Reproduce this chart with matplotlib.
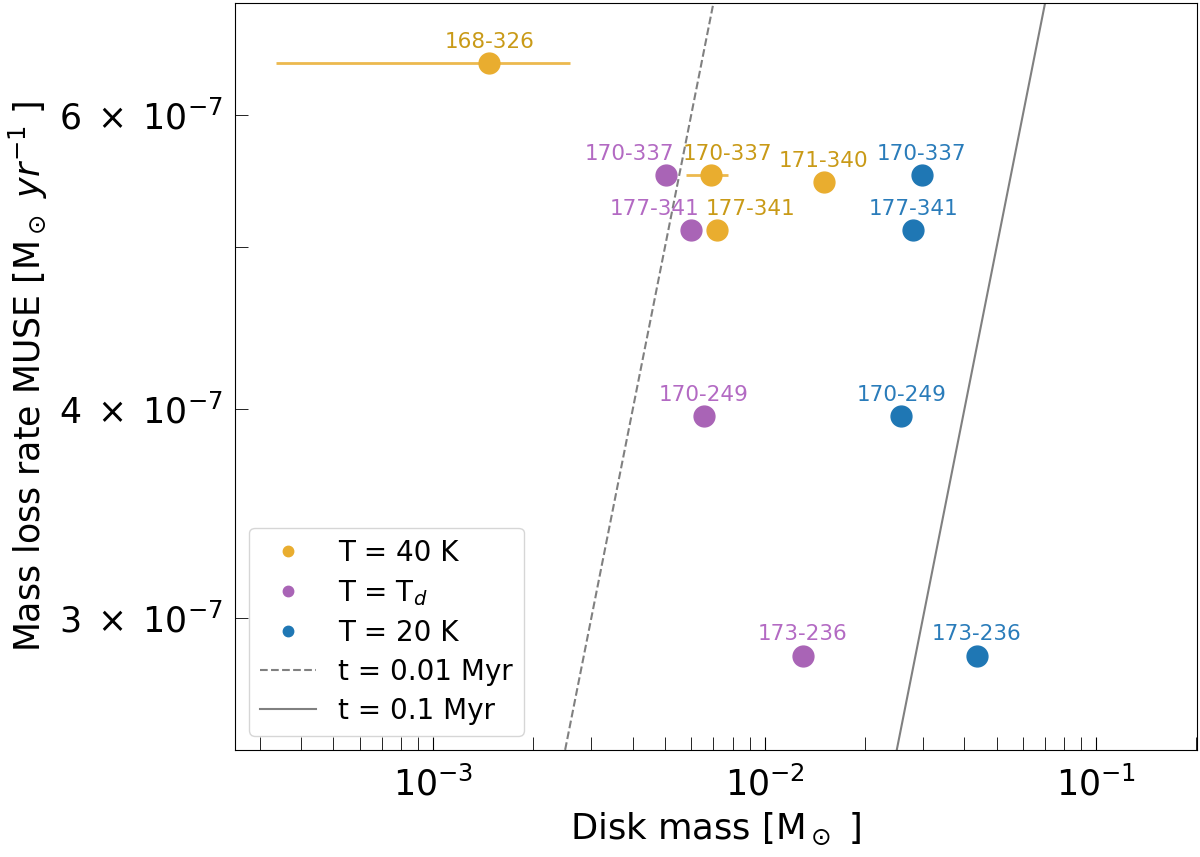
import matplotlib
matplotlib.use("Agg")
import matplotlib.pyplot as plt
from matplotlib.ticker import FuncFormatter
import numpy as np

# disk masses [Msun] and MUSE mass loss rates [Msun/yr]
names_40k = ["168-326", "170-337", "171-340", "177-341"]
mdisk_40k = [1.475e-3, 6.86e-3, 1.504e-2, 7.17e-3]
mdot_40k = [6.44e-7, 5.52e-7, 5.47e-7, 5.12e-7]
xerr_lo_40k = [1.14e-3, 1.06e-3, 0.0, 0.0]
xerr_hi_40k = [1.11e-3, 0.88e-3, 0.0, 0.0]

names_td = ["170-337", "177-341", "170-249", "173-236"]
mdisk_td = [5.03e-3, 5.99e-3, 6.54e-3, 1.303e-2]
mdot_td = [5.52e-7, 5.12e-7, 3.96e-7, 2.847e-7]

names_20k = ["170-337", "177-341", "170-249", "173-236"]
mdisk_20k = [2.976e-2, 2.80e-2, 2.58e-2, 4.35e-2]
mdot_20k = [5.52e-7, 5.12e-7, 3.96e-7, 2.847e-7]

# depletion time lines
t_lines = [1e4, 1e5]  # yr
t_labels = ["t = 0.01 Myr", "t = 0.1 Myr"]
mdot_line = [2.5e-7, 7e-7]

c_40k, c_td, c_20k = "#e9ad2f", "#a964b6", "#1f77b4"
tc_40k, tc_td, tc_20k = "#c99a17", "#b36ac3", "#2a7cba"

fig = plt.figure(figsize=(12, 8.57), dpi=100)
ax = fig.add_axes([0.196, 0.125, 0.8015, 0.8715])

ax.errorbar(mdisk_40k, mdot_40k, xerr=[xerr_lo_40k, xerr_hi_40k], fmt="none",
            ecolor=c_40k, elinewidth=2, alpha=0.85, zorder=2)
ax.plot(mdisk_40k, mdot_40k, "o", ms=15, color=c_40k, label="T = 40 K", zorder=3)
ax.plot(mdisk_td, mdot_td, "o", ms=15, color=c_td, label="T = T$_d$", zorder=3)
ax.plot(mdisk_20k, mdot_20k, "o", ms=15, color=c_20k, label="T = 20 K", zorder=3)

for t, lab, ls in zip(t_lines, t_labels, ["--", "-"]):
    ax.plot([m * t for m in mdot_line], mdot_line, ls, color="grey", lw=1.5, label=lab, zorder=1)

# label nudges (points) for crowded labels
nudge_40k = {"170-337": 12, "177-341": 24}
nudge_td = {"170-337": -26, "177-341": -26}

def label(names, xs, ys, col, nudge):
    for n, x, y in zip(names, xs, ys):
        ax.annotate(n, (x, y), xytext=(nudge.get(n, 0), 11), textcoords="offset points",
                    ha="center", va="baseline", fontsize=15.5, color=col)

label(names_40k, mdisk_40k, mdot_40k, tc_40k, nudge_40k)
label(names_td, mdisk_td, mdot_td, tc_td, nudge_td)
label(names_20k, mdisk_20k, mdot_20k, tc_20k, {})

ax.set_xscale("log")
ax.set_yscale("log")
ax.set_xlim(2.53e-4, 0.201)
ax.set_ylim(2.5e-7, 7.0e-7)

def ylab(v, pos):
    e = int(np.floor(np.log10(v) + 1e-9))
    m = int(round(v / 10**e))
    if m in (3, 4, 6):
        return r"$%d\;\times\;10^{%d}$" % (m, e)
    return ""

ax.yaxis.set_minor_formatter(FuncFormatter(ylab))
ax.tick_params(which="both", direction="in", length=9.5, labelsize=25)
ax.tick_params(axis="x", which="both", pad=12)
ax.tick_params(axis="y", which="both", pad=9)
ax.set_xlabel(r"Disk mass [M$_\odot$ ]", fontsize=25.5, labelpad=6)
ax.set_ylabel(r"Mass loss rate MUSE [M$_\odot$ $yr^{-1}$ ]", fontsize=25, labelpad=6)

ax.legend(loc="lower left", fontsize=20, markerscale=0.5, labelspacing=0.4,
          handlelength=2.0)

fig.savefig("out.png", dpi=100)
